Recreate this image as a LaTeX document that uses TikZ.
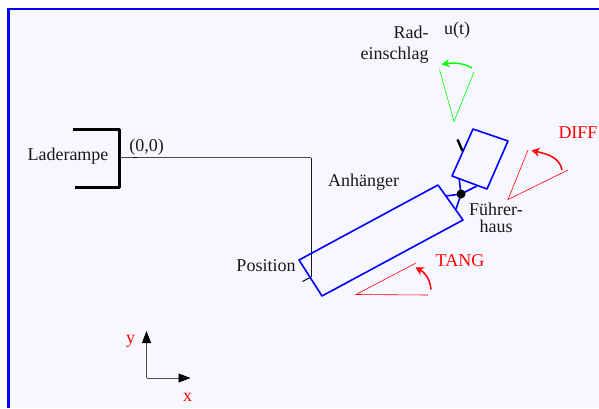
\documentclass[tikz,border=0pt]{standalone}
\usepackage{fontspec}
\setmainfont{Liberation Serif}
\usetikzlibrary{arrows.meta}

\begin{document}
\begin{tikzpicture}[x=1pt,y=-1pt,
  every node/.style={inner sep=0pt,font=\fontsize{18}{21}\selectfont,text=black!90},
  redlabel/.style={text=red},
  bluebox/.style={draw=blue,line width=1.6pt,line join=round},
  redline/.style={draw=red,line width=0.6pt},
  redarrow/.style={draw=red,line width=1.5pt,-{Stealth[open,length=8pt,width=9pt]}},
  hitch/.style={draw=blue,line width=1.6pt},
  axis/.style={draw=black!70,line width=0.9pt,-{Triangle[black,length=12pt,width=9pt]}}]
\useasboundingbox (0,0) rectangle (599,408);
\fill[white] (0,0) rectangle (599,408);
\fill[blue!3] (8.5,9) rectangle (599,408);
\draw[blue,line width=2.4pt] (8.5,408) -- (8.5,9) -- (599,9);

\node (rampe) at (68,156) {Laderampe};
\node (nullpunkt) at (146.5,147) {(0,0)};
\node (anhaenger) at (363.5,182) {Anhänger};
\node (position) at (266,265.5) {Position};
\node[align=right] (rad) at (394.5,45) {Rad-\\einschlag};
\node (ut) at (457,30) {u(t)};
\node[align=center] (fuehrer) at (496,218) {Führer-\\[-4.5pt]haus};
\node[redlabel] (diff) at (578,133) {DIFF};
\node[redlabel] (tang) at (460,261) {TANG};
\node[redlabel] (ylabel) at (130.5,341) {y};
\node[redlabel] (xlabel) at (187.5,397) {x};

\coordinate (r1) at (73,129);
\coordinate (r2) at (119,129);
\coordinate (r3) at (119,187);
\coordinate (r4) at (74.5,187);
\draw[line width=3pt,line join=round,black] (r1) -- (r2) -- (r3) -- (r4);

\coordinate (start) at (120,157.5);
\coordinate (knick) at (311,157.5);
\coordinate (pos) at (311,277);
\coordinate (stub) at (302.5,281.5);
\coordinate (tick1) at (133,157.5);
\coordinate (tick2) at (137,157.5);
\draw[black!70,line width=0.7pt] (start) -- (knick);
\draw[black!90,line width=0.7pt] (knick) -- (pos);
\draw[black,line width=1pt] (pos) -- (stub);
\draw[black,line width=1pt] (tick1) -- (tick2);

\coordinate (a1) at (299,260);
\coordinate (a2) at (438,185);
\coordinate (a3) at (463,220);
\coordinate (a4) at (322,296);
\draw[bluebox] (a1) -- (a2) -- (a3) -- (a4) -- cycle;

\coordinate (f1) at (473,129);
\coordinate (f2) at (508,141);
\coordinate (f3) at (487,189);
\coordinate (f4) at (452,176);
\draw[bluebox] (f1) -- (f2) -- (f3) -- (f4) -- cycle;

\coordinate (h1) at (446,196);
\coordinate (h2) at (456,209);
\coordinate (h3) at (459,178);
\coordinate (h4) at (477,186);
\coordinate (h5) at (461,194);
\draw[hitch] (h1) -- (h5) -- (h3);
\draw[hitch] (h2) -- (h5) -- (h4);
\node[circle,fill=black,minimum size=9pt] (gelenk) at (h5) {};

\coordinate (l1) at (457.5,139.5);
\coordinate (l2) at (462.5,151);
\draw[black,line width=2.4pt] (l1) -- (l2);

\coordinate (g1) at (439.5,69.5);
\coordinate (g2) at (454,121.5);
\coordinate (g3) at (474,72);
\draw[green,line width=0.6pt] (g1) -- (g2) -- (g3);
\coordinate (g4) at (472,68);
\coordinate (g5) at (441.5,64.5);
\draw[green,line width=1.4pt,-{Stealth[open,length=8pt,width=8pt]}] (g4) .. controls (465,64) and (456,62) .. (g5);

\coordinate (d1) at (528,150);
\coordinate (d2) at (508,199.5);
\coordinate (d3) at (568,170);
\draw[redline] (d1) -- (d2) -- (d3);
\coordinate (d4) at (562,170);
\coordinate (d5) at (531.5,150.5);
\draw[redarrow] (d4) .. controls (560,158) and (548,154) .. (d5);

\coordinate (t1) at (416,263);
\coordinate (t2) at (356,294.5);
\coordinate (t3) at (428,295);
\draw[redline] (t1) -- (t2) -- (t3);
\coordinate (t4) at (431,289.5);
\coordinate (t5) at (415.5,267.5);
\draw[redarrow] (t4) .. controls (430,278) and (424,272) .. (t5);

\coordinate (ursprung) at (146.5,378);
\coordinate (yachse) at (146.5,331);
\coordinate (xachse) at (190.5,378);
\draw[axis] (ursprung) -- (yachse);
\draw[axis] (ursprung) -- (xachse);
\end{tikzpicture}
\end{document}
